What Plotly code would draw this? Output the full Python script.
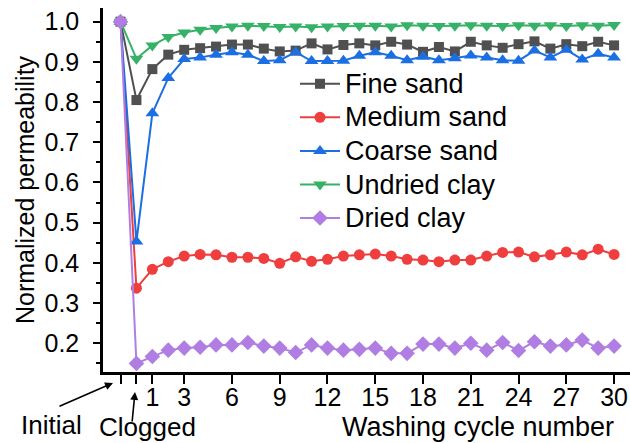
import plotly.graph_objects as go

# x positions: -1 = initial state, 0 = clogged state, 1..30 = washing cycles
cycles = list(range(-1, 31))

fine_sand = [1.000, 0.805, 0.882, 0.918, 0.930, 0.934, 0.938, 0.943, 0.943, 0.933,
             0.926, 0.928, 0.946, 0.931, 0.942, 0.946, 0.941, 0.950, 0.943, 0.925,
             0.937, 0.926, 0.950, 0.941, 0.935, 0.944, 0.951, 0.933, 0.944, 0.939,
             0.950, 0.941]
medium_sand = [1.000, 0.337, 0.384, 0.403, 0.417, 0.421, 0.420, 0.414, 0.414, 0.411,
               0.399, 0.415, 0.404, 0.409, 0.417, 0.420, 0.422, 0.417, 0.409, 0.407,
               0.403, 0.407, 0.407, 0.417, 0.426, 0.427, 0.415, 0.420, 0.427, 0.420,
               0.434, 0.421]
coarse_sand = [1.000, 0.453, 0.772, 0.860, 0.907, 0.911, 0.918, 0.924, 0.918, 0.902,
               0.904, 0.924, 0.902, 0.902, 0.903, 0.915, 0.924, 0.915, 0.904, 0.913,
               0.904, 0.909, 0.916, 0.911, 0.904, 0.903, 0.928, 0.911, 0.930, 0.906,
               0.920, 0.911]
undried_clay = [1.000, 0.908, 0.941, 0.962, 0.973, 0.980, 0.984, 0.988, 0.990, 0.989,
                0.987, 0.988, 0.986, 0.988, 0.989, 0.990, 0.990, 0.988, 0.991, 0.990,
                0.989, 0.990, 0.991, 0.990, 0.989, 0.991, 0.990, 0.991, 0.989, 0.991,
                0.990, 0.992]
dried_clay = [1.000, 0.150, 0.167, 0.183, 0.188, 0.190, 0.196, 0.196, 0.202, 0.193,
              0.188, 0.177, 0.196, 0.188, 0.183, 0.185, 0.188, 0.175, 0.175, 0.198,
              0.198, 0.188, 0.200, 0.183, 0.202, 0.182, 0.204, 0.193, 0.196, 0.208,
              0.188, 0.193]

x_tickvals = [-1, 0, 1, 3, 6, 9, 12, 15, 18, 21, 24, 27, 30]
x_ticktext = ["", "", "1", "3", "6", "9", "12", "15", "18", "21", "24", "27", "30"]
y_tickvals = [0.2, 0.3, 0.4, 0.5, 0.6, 0.7, 0.8, 0.9, 1.0]
y_ticktext = ["0.2", "0.3", "0.4", "0.5", "0.6", "0.7", "0.8", "0.9", "1.0"]

series = [
    ("Fine sand", fine_sand, "#505050", "square", 10),
    ("Medium sand", medium_sand, "#ef3e3e", "circle", 11),
    ("Coarse sand", coarse_sand, "#1b6fe3", "triangle-up", 12),
    ("Undried clay", undried_clay, "#36b268", "triangle-down", 12),
    ("Dried clay", dried_clay, "#b07ee2", "diamond", 12),
]

FONT = "Liberation Sans, Arial, sans-serif"
W, H = 630, 443
ML, MR, MT, MB = 103, 0, 8, 71
PW, PH = W - ML - MR, H - MT - MB


def px_to_paper(px, py):
    return (px - ML) / PW, (H - MB - py) / PH


fig = go.Figure()
for name, vals, color, symbol, size in series:
    fig.add_trace(go.Scatter(
        x=cycles, y=vals, mode="lines+markers",
        name='<span style="font-size:27px">%s</span>' % name,
        line=dict(color=color, width=2),
        marker=dict(symbol=symbol, size=size, color=color, line=dict(width=0)),
    ))

# "Initial" and "Clogged" labels with arrows pointing at their ticks
annotations = []
for text, head, tail, tpos in [
    ("Initial", (113, 383), (58, 407), (51, 425)),
    ("Clogged", (135, 392), (132, 423), (147, 427)),
]:
    hx, hy = px_to_paper(*head)
    annotations.append(dict(
        x=hx, y=hy, xref="paper", yref="paper", text="", showarrow=True,
        ax=tail[0] - head[0], ay=tail[1] - head[1],
        arrowhead=2, arrowsize=1, arrowwidth=1.6, arrowcolor="black",
    ))
    tx, ty = px_to_paper(*tpos)
    annotations.append(dict(
        x=tx, y=ty, xref="paper", yref="paper", text=text, showarrow=False,
        xanchor="center", yanchor="middle",
        font=dict(family=FONT, size=26, color="black"),
    ))

tx, ty = px_to_paper(616, 427)
annotations.append(dict(
    x=tx, y=ty, xref="paper", yref="paper", text="Washing cycle number",
    showarrow=False, xanchor="right", yanchor="middle",
    font=dict(family=FONT, size=27, color="black"),
))

lx, ly = px_to_paper(295, 62)
fig.update_layout(
    width=W, height=H,
    margin=dict(l=ML, r=MR, t=MT, b=MB, pad=0),
    paper_bgcolor="white", plot_bgcolor="white",
    font=dict(family=FONT, size=24, color="black"),
    showlegend=True,
    legend=dict(
        x=lx, y=ly, xanchor="left", yanchor="top",
        bgcolor="rgba(0,0,0,0)", font=dict(family=FONT, size=23.5, color="black"),
        tracegroupgap=0, itemwidth=40,
    ),
    annotations=annotations,
    xaxis=dict(
        range=[-2.1, 31], showgrid=False, zeroline=False,
        showline=True, linecolor="black", linewidth=2.5,
        ticks="outside", ticklen=9, tickwidth=2, tickcolor="black",
        tickvals=x_tickvals, ticktext=x_ticktext, ticklabelstandoff=-8,
        tickfont=dict(family=FONT, size=25, color="black"),
    ),
    yaxis=dict(
        range=[0.1286, 1.034], showgrid=False, zeroline=False,
        showline=True, linecolor="black", linewidth=2.5,
        ticks="outside", ticklen=7, tickwidth=2, tickcolor="black",
        tickvals=y_tickvals, ticktext=y_ticktext, ticklabelstandoff=9,
        tickfont=dict(family=FONT, size=25, color="black"),
        minor=dict(ticks="outside", ticklen=4, tickwidth=2, tickcolor="black",
                   tickvals=[0.15, 0.25, 0.35, 0.45, 0.55, 0.65, 0.75, 0.85, 0.95]),
        title=dict(text="Normalized permeability", standoff=3,
                   font=dict(family=FONT, size=25, color="black")),
    ),
)

fig.write_html("out.html")
